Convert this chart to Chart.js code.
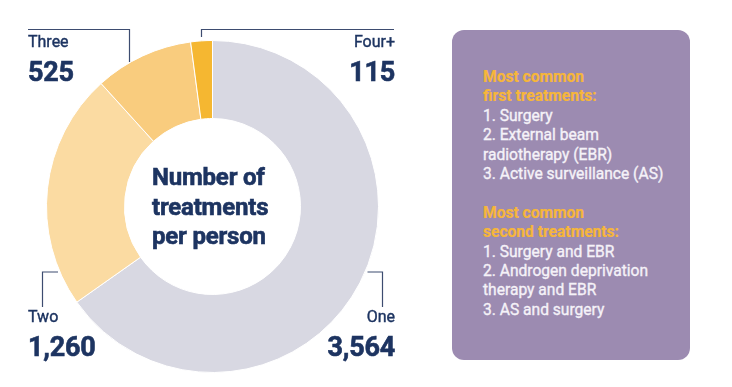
<!DOCTYPE html>
<html>
<head>
<meta charset="utf-8">
<script src="https://cdn.jsdelivr.net/npm/chart.js@4"></script>
<style>
  html, body { margin: 0; padding: 0; background: #fff; }
  body { width: 732px; height: 387px; position: relative; overflow: hidden; font-family: Roboto, "Noto Sans", sans-serif; }
  #wrap { position: absolute; left: 0; top: 0; width: 732px; height: 387px; }
  .lbl { position: absolute; color: #1d3461; white-space: nowrap; }
  .lbl .name { font-size: 16px; font-weight: 400; line-height: 20px; -webkit-text-stroke: 0.4px #1d3461; }
  .lbl .num { font-size: 27px; font-weight: 700; line-height: 30px; margin-top: 5px; letter-spacing: -0.2px;
    -webkit-text-stroke: 0.6px #1d3461; }
  .left { text-align: left; }
  .right { text-align: right; }
  #title { position: absolute; left: 152px; top: 163px; color: #1d3461; font-size: 24px; font-weight: 700;
    line-height: 29.5px; letter-spacing: -0.2px; -webkit-text-stroke: 0.6px #1d3461; }
  #info { position: absolute; left: 452px; top: 30px; width: 238px; height: 330px; border-radius: 12px;
    background: #9c8bb1; box-sizing: border-box; padding: 38px 0 0 31px; color: #f5f2f8;
    font-size: 15.6px; font-weight: 400; line-height: 19.4px; -webkit-text-stroke: 0.35px #f5f2f8; }
  #info .hd { color: #f6b63a; font-weight: 700; -webkit-text-stroke: 0.2px #f6b63a; }
  #info .gap { height: 19.4px; }
</style>
</head>
<body>
<div id="wrap"><canvas id="myChart" width="732" height="387"></canvas></div>
<div id="title">Number of<br>treatments<br>per person</div>
<div id="labels"></div>
<div id="info"></div>
<script>
const categories = ["One", "Two", "Three", "Four+"];
const counts = [3564, 1260, 525, 115];
const sliceColors = ["#d8d8e2", "#fbdba2", "#f9cc7e", "#f5b731"];

const firstHeading = ["Most common", "first treatments:"];
const firstList = ["1. Surgery", "2. External beam", "radiotherapy (EBR)", "3. Active surveillance (AS)"];
const secondHeading = ["Most common", "second treatments:"];
const secondList = ["1. Surgery and EBR", "2. Androgen deprivation", "therapy and EBR", "3. AS and surgery"];

// where each slice label sits, and its leader line
const labelPlaces = [
  { cls: "right", right: 337, top: 307, line: [[367.5, 272], [382.5, 272], [382.5, 307]] },
  { cls: "left", left: 28, top: 307, line: [[58, 272], [42.5, 272], [42.5, 307]] },
  { cls: "left", left: 28, top: 32, line: [[28, 29.5], [129.5, 29.5], [129.5, 62]] },
  { cls: "right", right: 337, top: 32, line: [[394, 29.5], [201.5, 29.5], [201.5, 37]] },
];

function buildLabels() {
  const box = document.getElementById("labels");
  categories.forEach((name, i) => {
    const p = labelPlaces[i];
    const d = document.createElement("div");
    d.className = "lbl " + p.cls;
    d.style.top = p.top + "px";
    if (p.cls === "left") d.style.left = p.left + "px";
    else d.style.right = p.right + "px";
    d.innerHTML = '<div class="name">' + name + '</div><div class="num">' +
      counts[i].toLocaleString("en-US") + "</div>";
    box.appendChild(d);
  });
}

function buildInfo() {
  const info = document.getElementById("info");
  let html = "";
  firstHeading.forEach((t) => (html += '<div class="hd">' + t + "</div>"));
  firstList.forEach((t) => (html += "<div>" + t + "</div>"));
  html += '<div class="gap"></div>';
  secondHeading.forEach((t) => (html += '<div class="hd">' + t + "</div>"));
  secondList.forEach((t) => (html += "<div>" + t + "</div>"));
  info.innerHTML = html;
}

const leaderLines = {
  id: "leaderLines",
  afterDraw(chart) {
    const ctx = chart.ctx;
    ctx.save();
    ctx.strokeStyle = "#3d4c70";
    ctx.lineWidth = 1.2;
    labelPlaces.forEach((p) => {
      ctx.beginPath();
      p.line.forEach((pt, k) => (k === 0 ? ctx.moveTo(pt[0], pt[1]) : ctx.lineTo(pt[0], pt[1])));
      ctx.stroke();
    });
    ctx.restore();
  },
};

function createChart() {
  const ctx = document.getElementById("myChart").getContext("2d");
  new Chart(ctx, {
    type: "doughnut",
    data: {
      labels: categories,
      datasets: [
        {
          data: counts,
          backgroundColor: sliceColors,
          borderColor: "#ffffff",
          borderWidth: 1,
        },
      ],
    },
    options: {
      responsive: false,
      animation: false,
      cutout: "53%",
      layout: { padding: { left: 46, right: 353, top: 40, bottom: 14 } },
      plugins: {
        legend: { display: false },
        tooltip: { enabled: false },
      },
    },
    plugins: [leaderLines],
  });
}

buildLabels();
buildInfo();
createChart();
</script>
</body>
</html>
